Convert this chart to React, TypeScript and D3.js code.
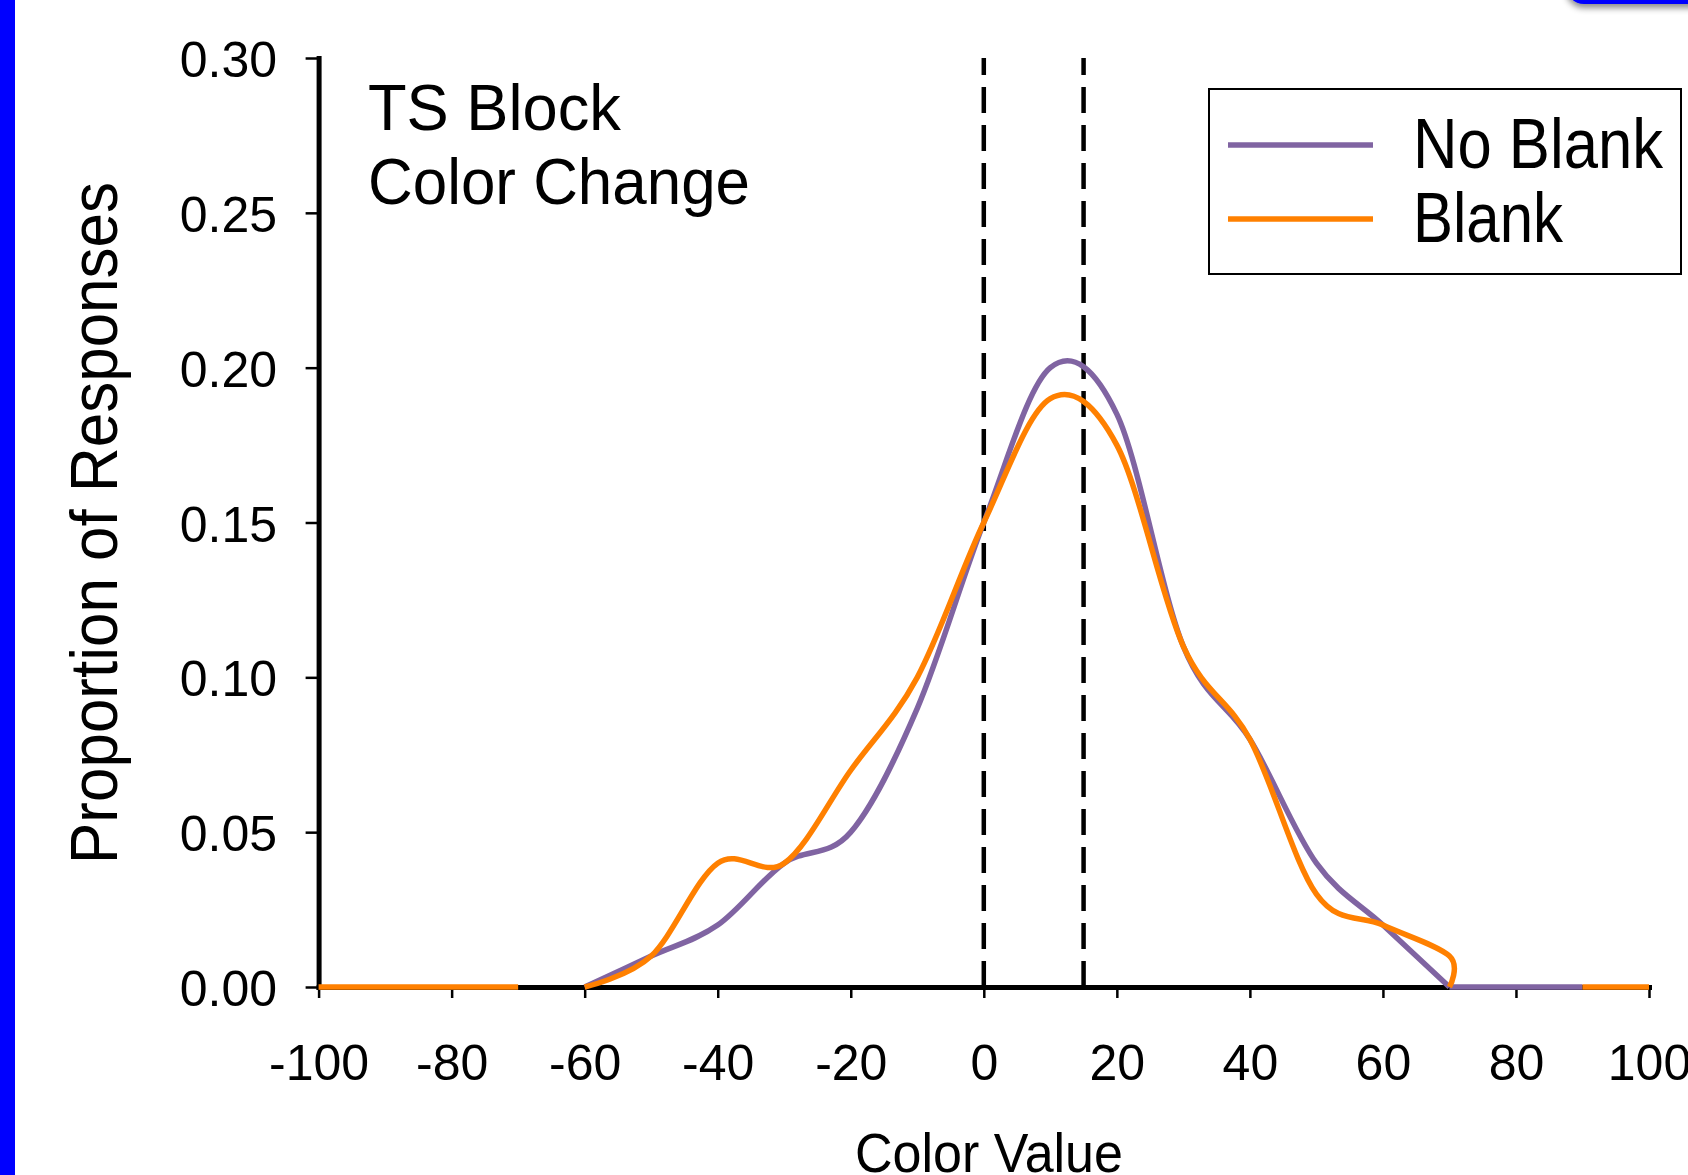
import React, { useEffect, useRef } from 'react';
import * as d3 from 'd3';

// values
const colorTicks = [-100, -80, -60, -40, -20, 0, 20, 40, 60, 80, 100];
const proportionTicks = [0, 0.05, 0.1, 0.15, 0.2, 0.25, 0.3];
const dashedAt = [0, 15];

const noBlankX = [-60, -50, -40, -30, -20, -10, 0, 10, 20, 30, 40, 50, 60, 70];
const noBlankY = [0, 0.01, 0.02, 0.04, 0.05, 0.09, 0.15, 0.2, 0.185, 0.11, 0.08, 0.04, 0.02, 0];
const noBlankTailX = [70, 80, 90];
const noBlankTailY = [0, 0, 0];

const blankLeadX = [-100, -90, -80, -70];
const blankLeadY = [0, 0, 0, 0];
const blankX = [-60, -50, -40, -30, -20, -10, 0, 10, 20, 30, 40, 50, 60, 70, 70];
const blankY = [0, 0.01, 0.04, 0.04, 0.07, 0.1, 0.15, 0.19, 0.175, 0.11, 0.08, 0.03, 0.02, 0.01, 0];
const blankTailX = [90, 100];
const blankTailY = [0, 0];

const seriesNames = ['No Blank', 'Blank'];
const seriesColors = ['#8064a2', '#ff8000'];

const FONT = '"Liberation Sans", Arial, sans-serif';

function App() {
  const svgRef = useRef<SVGSVGElement>(null);

  useEffect(() => {
    const w = 1688;
    const h = 1175;

    const svg = d3.select(svgRef.current).attr('width', w).attr('height', h);
    svg.selectAll('*').remove();

    // blue frame decorations
    const defs = svg.append('defs');
    const shadow = defs.append('filter').attr('id', 'shadow').attr('x', '-20%').attr('y', '-50%').attr('width', '140%').attr('height', '200%');
    shadow.append('feDropShadow').attr('dx', 0).attr('dy', 4).attr('stdDeviation', 3).attr('flood-color', '#000').attr('flood-opacity', 0.45);

    svg.append('rect').attr('x', 1566).attr('y', -40).attr('width', 200).attr('height', 44)
      .attr('rx', 18).attr('fill', '#0000ff').attr('filter', 'url(#shadow)');
    svg.append('rect').attr('x', 0).attr('y', 0).attr('width', 15).attr('height', h).attr('fill', '#0000ff');

    // scales
    const x = d3.scaleLinear().domain([-100, 100]).range([318.6, 1649]);
    const y = d3.scaleLinear().domain([0, 0.3]).range([987, 58]);

    // dashed markers
    svg.selectAll('.marker')
      .data(dashedAt)
      .join('line')
      .attr('x1', d => x(d)).attr('x2', d => x(d))
      .attr('y1', y(0)).attr('y2', y(0.3))
      .attr('stroke', '#000').attr('stroke-width', 4.5)
      .attr('stroke-dasharray', '26 12');

    // axes
    const yAxis = d3.axisLeft(y)
      .tickValues(proportionTicks)
      .tickSize(13)
      .tickSizeOuter(0)
      .tickPadding(28.6)
      .tickFormat(d3.format('.2f') as any);

    const xAxis = d3.axisBottom(x)
      .tickValues(colorTicks)
      .tickSize(11)
      .tickSizeOuter(0)
      .tickPadding(46)
      .tickFormat(d => String(d));

    const gy = svg.append('g').attr('transform', `translate(${x(-100)},0)`).call(yAxis);
    const gx = svg.append('g').attr('transform', `translate(0,${y(0)})`).call(xAxis);

    [gx, gy].forEach(g => {
      g.attr('font-family', FONT).attr('font-size', 50);
      g.select('.domain').attr('stroke', '#000').attr('stroke-width', 5).attr('stroke-linecap', 'square');
      g.selectAll('.tick line').attr('stroke', '#000').attr('stroke-width', 2.5);
      g.selectAll('.tick text').attr('fill', '#000');
    });
    gy.selectAll('.tick text').attr('dy', '0.37em');

    // lines
    const line = d3.line<[number, number]>()
      .x(d => x(d[0]))
      .y(d => y(d[1]))
      .curve(d3.curveCardinal.tension(0));

    const zip = (xs: number[], ys: number[]) => xs.map((v, i) => [v, ys[i]] as [number, number]);

    const segments = [
      { pts: zip(noBlankX, noBlankY), color: seriesColors[0] },
      { pts: zip(noBlankTailX, noBlankTailY), color: seriesColors[0] },
      { pts: zip(blankLeadX, blankLeadY), color: seriesColors[1] },
      { pts: zip(blankX, blankY), color: seriesColors[1] },
      { pts: zip(blankTailX, blankTailY), color: seriesColors[1] },
    ];

    svg.selectAll('.series')
      .data(segments)
      .join('path')
      .attr('d', d => line(d.pts))
      .attr('fill', 'none')
      .attr('stroke', d => d.color)
      .attr('stroke-width', 5.5)
      .attr('stroke-linejoin', 'round');

    // panel label
    svg.append('text').attr('x', 368).attr('y', 130)
      .attr('font-family', FONT).attr('font-size', 65)
      .attr('textLength', 253).attr('lengthAdjust', 'spacingAndGlyphs')
      .text('TS Block');
    svg.append('text').attr('x', 368).attr('y', 204)
      .attr('font-family', FONT).attr('font-size', 65)
      .attr('textLength', 382).attr('lengthAdjust', 'spacingAndGlyphs')
      .text('Color Change');

    // axis titles
    svg.append('text')
      .attr('transform', 'translate(117,523) rotate(-90)')
      .attr('text-anchor', 'middle')
      .attr('font-family', FONT).attr('font-size', 66)
      .attr('textLength', 682).attr('lengthAdjust', 'spacingAndGlyphs')
      .text('Proportion of Responses');
    svg.append('text')
      .attr('x', 989).attr('y', 1172)
      .attr('text-anchor', 'middle')
      .attr('font-family', FONT).attr('font-size', 56)
      .attr('textLength', 268).attr('lengthAdjust', 'spacingAndGlyphs')
      .text('Color Value');

    // legend
    const legend = svg.append('g');
    legend.append('rect').attr('x', 1209).attr('y', 89).attr('width', 472).attr('height', 185)
      .attr('fill', '#fff').attr('stroke', '#000').attr('stroke-width', 2);
    const textLengths = [250, 150];
    seriesNames.forEach((name, i) => {
      const ly = 145 + i * 74;
      legend.append('line').attr('x1', 1228).attr('x2', 1373).attr('y1', ly).attr('y2', ly)
        .attr('stroke', seriesColors[i]).attr('stroke-width', 5.5);
      legend.append('text').attr('x', 1413).attr('y', ly + 23)
        .attr('font-family', FONT).attr('font-size', 70)
        .attr('textLength', textLengths[i]).attr('lengthAdjust', 'spacingAndGlyphs')
        .text(name);
    });
  }, []);

  return (
    <div>
      <svg ref={svgRef} style={{ position: 'absolute', left: 0, top: 0, display: 'block', background: '#fff' }}></svg>
    </div>
  );
}

export default App;
